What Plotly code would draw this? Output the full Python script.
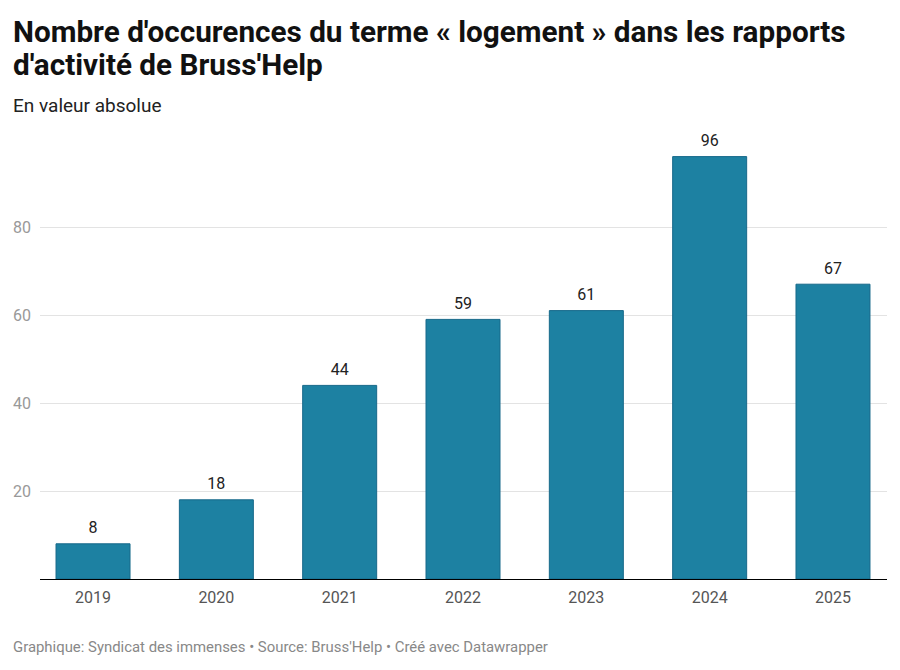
import plotly.graph_objects as go

years = ['2019', '2020', '2021', '2022', '2023', '2024', '2025']
occurences = [8, 18, 44, 59, 61, 96, 67]
y_ticks = [20, 40, 60, 80]

# page body has an 8px margin, so the figure is drawn 8px smaller
OFF = 8
W, H = 900 - OFF, 670 - OFF
L, R, T, B = 40 - OFF, 13, 139 - OFF, 91
PW, PH = W - L - R, H - T - B
FONT = 'Roboto'


def px(x):
    return (x - OFF - L) / PW


def py(y):
    return 1 - (y - OFF - T) / PH


xs = list(range(len(years)))

fig = go.Figure()
fig.add_trace(go.Bar(
    x=xs,
    y=occurences,
    width=0.6,
    marker=dict(color='#1d81a2', line=dict(color='#17698a', width=1)),
    hoverinfo='x+y',
))
# value labels, placed a little higher than plotly's own outside text
fig.add_trace(go.Scatter(
    x=xs,
    y=occurences,
    mode='markers+text',
    marker=dict(size=9, opacity=0),
    text=[str(v) for v in occurences],
    textposition='top center',
    textfont=dict(family=FONT, size=16, color='#222222'),
    cliponaxis=False,
    hoverinfo='skip',
))


def note(text, x, y, size, color, bold=False):
    return dict(text='<b>%s</b>' % text if bold else text,
                x=px(x), y=py(y), xref='paper', yref='paper',
                xanchor='left', yanchor='middle', align='left', showarrow=False,
                font=dict(family=FONT, size=size, color=color))


fig.update_layout(
    width=W, height=H,
    margin=dict(l=L, r=R, t=T, b=B),
    paper_bgcolor='white', plot_bgcolor='white',
    font=dict(family=FONT),
    showlegend=False,
    xaxis=dict(
        range=[-0.43, 6.438],
        tickmode='array',
        tickvals=xs,
        ticktext=years,
        tickfont=dict(family=FONT, size=16, color='#555555'),
        showgrid=False, zeroline=False,
        showline=True, linecolor='#000000', linewidth=1.3,
        ticks='', ticklabelstandoff=4,
        automargin=False,
        fixedrange=True,
    ),
    yaxis=dict(
        range=[0, 100],
        tickvals=y_ticks,
        tickfont=dict(family=FONT, size=16, color='#999999'),
        showgrid=True, gridcolor='#e3e3e3', gridwidth=1,
        zeroline=False, showline=False,
        ticks='', ticklabelstandoff=8,
        automargin=False,
        fixedrange=True,
    ),
    annotations=[
        note("Nombre d'occurences du terme « logement » dans les rapports", 11, 31, 29.7, '#111111', True),
        note("d'activité de Bruss'Help", 11, 64, 29.7, '#111111', True),
        note('En valeur absolue', 11, 105, 19, '#222222'),
        note("Graphique: Syndicat des immenses • Source: Bruss'Help • Créé avec Datawrapper",
             11, 647, 14.9, '#888888'),
    ],
)

fig.write_html('out.html')
